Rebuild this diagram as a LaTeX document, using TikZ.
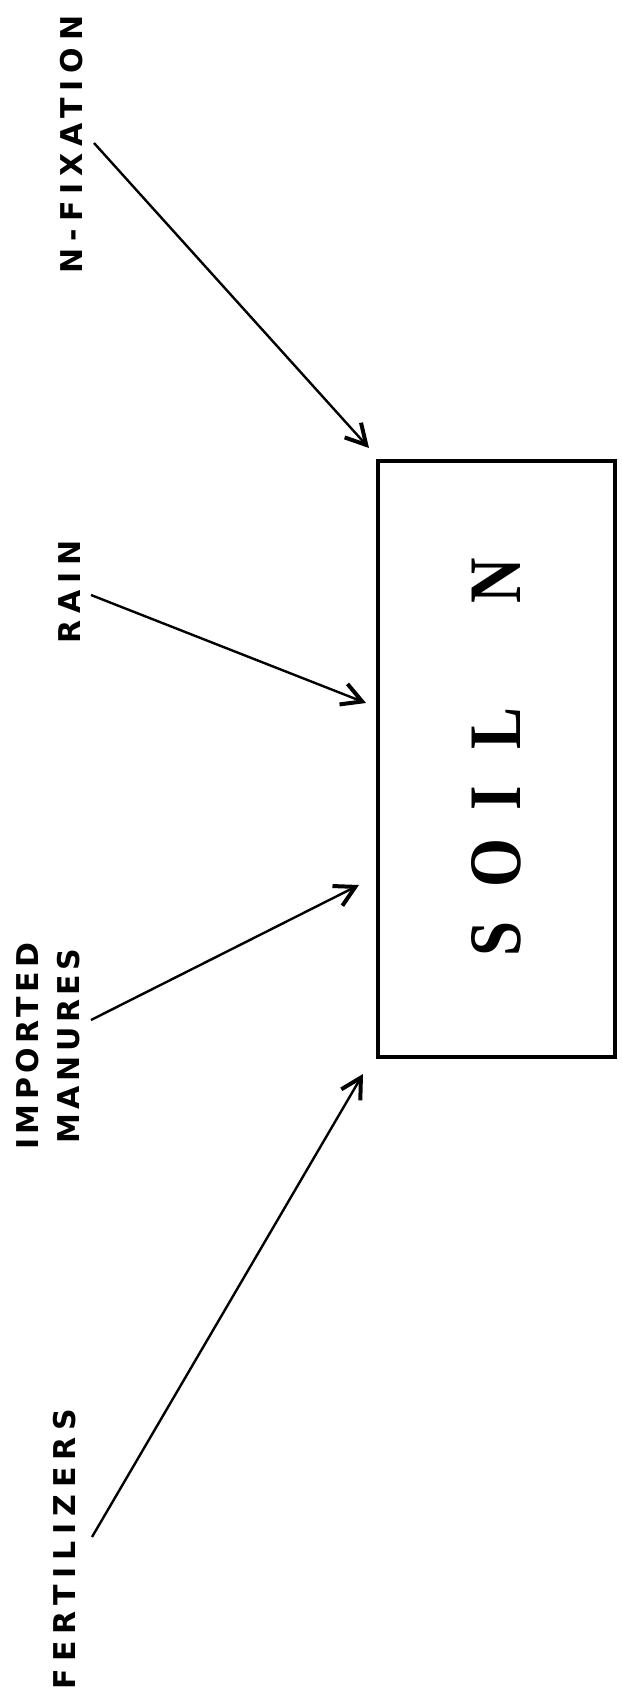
\documentclass[tikz,border=0pt]{standalone}
\usepackage{fontspec}
\usetikzlibrary{arrows.meta}
\newfontfamily\labfont{DejaVu Sans}[LetterSpace=23]
\newfontfamily\soilfont{Liberation Serif}[FakeStretch=0.85]
\newcommand\clp[1]{\hbox to 0pt{\hss#1\hss}}
\begin{document}
\begin{tikzpicture}[x=1pt,y=-1pt,
  lab/.style={font=\labfont\bfseries\fontsize{30}{41}\selectfont, rotate=90, inner sep=0pt, align=center},
  arr/.style={-{Straight Barb[length=20pt,width=22pt,line width=4pt]}, line width=2.4pt},
  soilbox/.style={draw, line width=3.5pt, rotate=90, minimum width=596pt, minimum height=237pt, inner sep=0pt,
    font=\soilfont\bfseries\fontsize{74}{74}\selectfont}]
\useasboundingbox (0,0) rectangle (621,1704);
\fill[white] (0,0) rectangle (621,1704);
\node[soilbox] (soil) at (496.5,759) {\hbox to 399pt{\kern20pt\clp{S}\kern75.5pt\clp{O}\kern65pt\clp{I}\kern70pt\clp{L}\kern147.5pt\clp{N}\hss}};
\node[lab] (nfix) at (72,144.5) {N-FIXATION};
\node[lab] (rain) at (70,592) {RAIN};
\node[lab, font=\labfont\bfseries\fontsize{30}{41}\selectfont\addfontfeature{LetterSpace=15}] (man) at (48.5,1046) {IMPORTED\\MANURES};
\node[lab] (fert) at (65,1549) {FERTILIZERS};
\coordinate (nfixS) at (94,143);
\coordinate (nfixT) at (369,448);
\coordinate (rainS) at (91,595);
\coordinate (rainT) at (366,703);
\coordinate (manS) at (91,1020);
\coordinate (manT) at (359,885);
\coordinate (fertS) at (92,1537);
\coordinate (fertT) at (363,1074);
\draw[arr] (nfixS) -- (nfixT);
\draw[arr] (rainS) -- (rainT);
\draw[arr] (manS) -- (manT);
\draw[arr] (fertS) -- (fertT);
\end{tikzpicture}
\end{document}
